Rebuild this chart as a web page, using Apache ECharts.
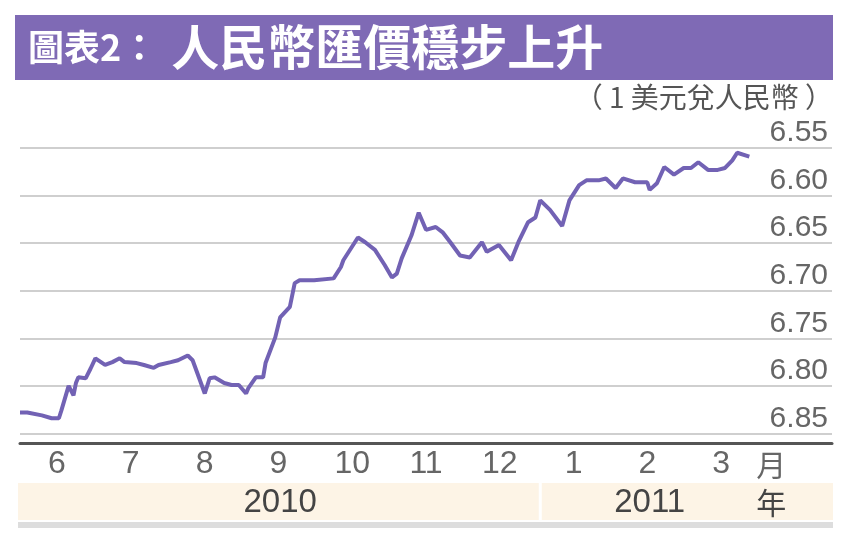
<!DOCTYPE html>
<html>
<head>
<meta charset="utf-8">
<title>人民幣匯價穩步上升</title>
<script src="https://cdn.jsdelivr.net/npm/echarts@6/dist/echarts.min.js"></script>
<style>
    html, body { margin: 0; padding: 0; background: #fff; }
    #main { width: 853px; height: 540px; }
</style>
</head>
<body>
<div id="main"></div>
<script type="text/javascript">
    // 讀數日期（約每數個交易日一點）
    var dates = [
        '2010-06-01','2010-06-04','2010-06-10','2010-06-14','2010-06-17','2010-06-18',
        '2010-06-21','2010-06-23','2010-06-24','2010-06-25','2010-06-28','2010-06-30',
        '2010-07-02','2010-07-06','2010-07-09','2010-07-12','2010-07-14','2010-07-19',
        '2010-07-22','2010-07-26','2010-07-28','2010-08-02','2010-08-05','2010-08-09',
        '2010-08-11','2010-08-13','2010-08-16','2010-08-18','2010-08-20','2010-08-24',
        '2010-08-27','2010-08-30','2010-09-02','2010-09-03','2010-09-06','2010-09-09',
        '2010-09-10','2010-09-14','2010-09-16','2010-09-20','2010-09-22','2010-09-24',
        '2010-09-30','2010-10-08','2010-10-11','2010-10-12','2010-10-18','2010-10-21',
        '2010-10-25','2010-10-29','2010-11-01','2010-11-03','2010-11-05','2010-11-09',
        '2010-11-12','2010-11-15','2010-11-19','2010-11-22','2010-11-25','2010-11-29',
        '2010-12-03','2010-12-08','2010-12-10','2010-12-15','2010-12-20','2010-12-23',
        '2010-12-27','2010-12-30','2011-01-01','2011-01-05','2011-01-10','2011-01-13',
        '2011-01-17','2011-01-20','2011-01-25','2011-01-28','2011-02-01','2011-02-04',
        '2011-02-09','2011-02-14','2011-02-15','2011-02-18','2011-02-21','2011-02-25',
        '2011-03-01','2011-03-04','2011-03-07','2011-03-11','2011-03-15','2011-03-18',
        '2011-03-21','2011-03-23','2011-03-28'
    ];
    // 1美元兌人民幣
    var rates = [
        6.828, 6.828, 6.831, 6.834, 6.834, 6.826,
        6.800, 6.810, 6.797, 6.791, 6.792, 6.782,
        6.771, 6.778, 6.775, 6.771, 6.775, 6.776,
        6.778, 6.781, 6.778, 6.775, 6.773, 6.768,
        6.773, 6.787, 6.808, 6.792, 6.791, 6.797,
        6.799, 6.799, 6.808, 6.802, 6.791, 6.791,
        6.776, 6.749, 6.728, 6.717, 6.692, 6.689,
        6.689, 6.687, 6.675, 6.668, 6.644, 6.649,
        6.657, 6.673, 6.686, 6.682, 6.666, 6.642,
        6.618, 6.636, 6.633, 6.639, 6.649, 6.663,
        6.665, 6.649, 6.659, 6.652, 6.668, 6.649,
        6.628, 6.623, 6.605, 6.615, 6.632, 6.605,
        6.589, 6.584, 6.584, 6.582, 6.592, 6.582,
        6.586, 6.586, 6.594, 6.587, 6.570, 6.578,
        6.571, 6.571, 6.565, 6.573, 6.573, 6.571,
        6.563, 6.555, 6.559
    ];
    var months = ['6','7','8','9','10','11','12','1','2','3',''];
    var yTicks = ['6.55','6.60','6.65','6.70','6.75','6.80','6.85'];
    var years = ['2010','2011'];
    var yearStarts = ['2010-06-01','2011-01-01'];

    var numFont = "'Liberation Sans', Arial, sans-serif";
    var cjkFont = "'Noto Sans CJK TC', 'Noto Sans CJK SC', sans-serif";

    var seriesData = dates.map(function (d, i) {
        return [d, rates[i]];
    });

    var myChart = echarts.init(document.getElementById('main'));
    var option = {
        animation: false,
        backgroundColor: '#fff',
        title: [{
            text: '{a|圖表2：}{b|人民幣匯價穩步上升}',
            left: 28,
            top: 19,
            padding: 0,
            z: 10,
            textStyle: {
                rich: {
                    a: {fontSize: 36, fontWeight: 'bold', color: '#fff', fontFamily: cjkFont, lineHeight: 56, padding: [0, 14, 0, 0]},
                    b: {fontSize: 48, fontWeight: 'bold', color: '#fff', fontFamily: cjkFont, lineHeight: 56}
                }
            }
        }, {
            text: '（ 1 美元兌人民幣 ）',
            right: 20,
            top: 83,
            padding: 0,
            textStyle: {fontSize: 28, fontWeight: 'normal', color: '#555', fontFamily: cjkFont}
        }],
        grid: {
            left: 20,
            right: 21,
            top: 148,
            bottom: 97
        },
        xAxis: [{
            type: 'time',
            min: '2010-06-01',
            max: '2011-05-01',
            show: false
        }, {
            type: 'category',
            data: months,
            position: 'bottom',
            boundaryGap: true,
            axisLine: {lineStyle: {color: '#555', width: 3}},
            axisTick: {
                interval: function (index) { return index >= 1 && index <= 9; },
                length: 10,
                lineStyle: {color: '#666', width: 2}
            },
            axisLabel: {interval: 0, color: '#666', fontSize: 32, margin: 5, fontFamily: numFont},
            splitLine: {show: false}
        }],
        yAxis: {
            type: 'value',
            inverse: true,
            min: 6.55,
            max: 6.86,
            interval: 0.05,
            position: 'right',
            axisLine: {show: false},
            axisTick: {show: false},
            axisLabel: {
                inside: true,
                margin: 4,
                verticalAlign: 'bottom',
                color: '#666',
                fontSize: 30,
                fontFamily: numFont,
                formatter: function (v) {
                    var s = v.toFixed(2);
                    return yTicks.indexOf(s) >= 0 ? s : '';
                }
            },
            splitLine: {lineStyle: {color: '#cfcfcf', width: 2}}
        },
        series: [{
            name: '1美元兌人民幣',
            type: 'line',
            xAxisIndex: 0,
            data: seriesData,
            showSymbol: false,
            lineStyle: {color: '#7262b4', width: 4},
            z: 5
        }]
    };
    myChart.setOption(option);

    // 標題色帶、年份色帶 —— 位置按坐標軸換算
    var xOf = function (d) { return myChart.convertToPixel({xAxisIndex: 0}, d); };
    var left = 18, right = 833, axisY = 443;
    var split = xOf(yearStarts[1]);
    var graphic = [
        {type: 'rect', left: 15, top: 15, z: 0, shape: {width: 818, height: 65}, style: {fill: '#7f6ab5'}},
        {type: 'rect', z: 0, shape: {x: left, y: axisY + 40, width: split - 1.5 - left, height: 37}, style: {fill: '#fdf4e6'}},
        {type: 'rect', z: 0, shape: {x: split + 1.5, y: axisY + 40, width: right - split - 1.5, height: 37}, style: {fill: '#fdf4e6'}},
        {type: 'rect', z: 0, shape: {x: left, y: axisY + 79, width: right - left, height: 6}, style: {fill: '#dddddd'}}
    ];
    var yearEnds = [yearStarts[1], '2011-04-01'];
    years.forEach(function (y, i) {
        graphic.push({
            type: 'text', z: 2,
            style: {
                text: y, x: (xOf(yearStarts[i]) + xOf(yearEnds[i])) / 2, y: axisY + 60,
                textAlign: 'center', textVerticalAlign: 'middle',
                fill: '#444', font: '33px ' + numFont
            }
        });
    });
    graphic.push({
        type: 'text', z: 2,
        style: {text: '月', x: xOf('2011-04-06'), y: axisY + 22, textAlign: 'center', textVerticalAlign: 'middle', fill: '#666', font: '30px ' + cjkFont}
    });
    graphic.push({
        type: 'text', z: 2,
        style: {text: '年', x: xOf('2011-04-06'), y: axisY + 60, textAlign: 'center', textVerticalAlign: 'middle', fill: '#444', font: '30px ' + cjkFont}
    });
    myChart.setOption({graphic: graphic});
</script>
</body>
</html>
